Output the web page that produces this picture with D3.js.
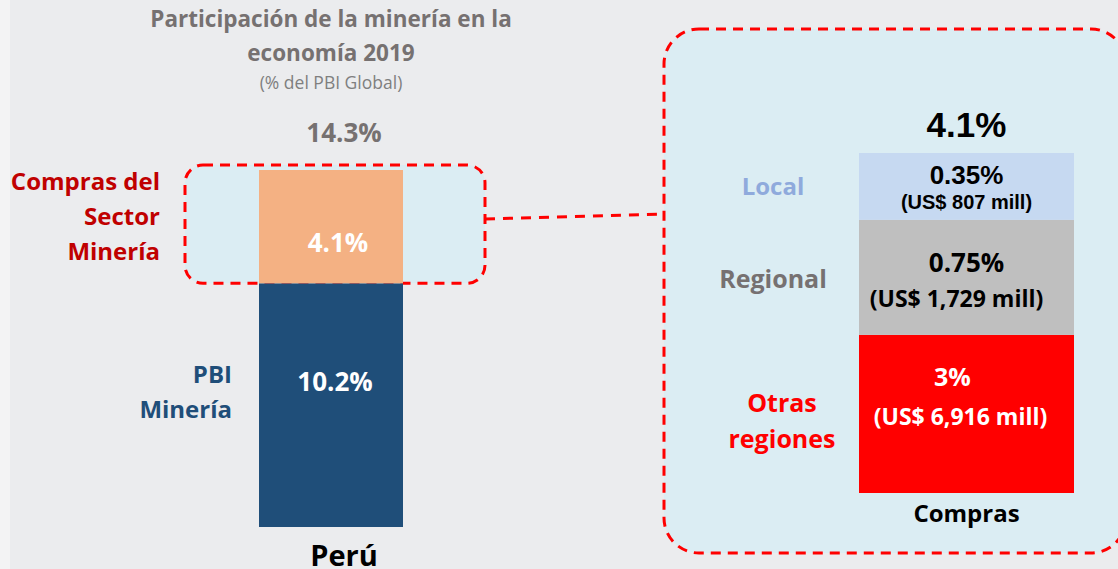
<!DOCTYPE html>
<html>
<head>
<meta charset="utf-8">
<script src="https://cdn.jsdelivr.net/npm/d3@7"></script>
<style>
	body { margin: 0; background: #ebecee; }
</style>
</head>
<body>
<div id="chart"></div>
<script>
// Left panel: mining share of GDP
const pbiKeys = ["PBI Minería", "Compras del Sector Minería"]
const pbiValues = [10.2, 4.1]
const pbiBarLabels = ["10.2%", "4.1%"]
const pbiCountry = "Perú"
const pbiTotalLabel = "14.3%"

// Right panel: where mining purchases go
const comprasKeys = ["Otras regiones", "Regional", "Local"]
const comprasValues = [3, 0.75, 0.35]
const comprasPctLabels = ["3%", "0.75%", "0.35%"]
const comprasMoneyLabels = ["(US$ 6,916 mill)", "(US$ 1,729 mill)", "(US$ 807 mill)"]
const comprasCategory = "Compras"
const comprasTotalLabel = "4.1%"

const titleLines = ["Participación de la minería en la", "economía 2019"]
const subtitle = "(% del PBI Global)"

const W = 1118, H = 569
const boxFill = "#dbedf3"
const dashRed = "#ff0000"

const makeContainer = () => {
	const svg = d3.select("#chart")
		.append("svg")
		.attr("width", W)
		.attr("height", H)
		.attr("font-family", "Open Sans")
		.attr("font-weight", "bold")

	svg.append("rect")
		.attr("width", W)
		.attr("height", H)
		.attr("fill", "#ebecee")

	// thin lighter strip on the far left of the slide
	svg.append("rect")
		.attr("width", 10)
		.attr("height", H)
		.attr("fill", "#f3f3f4")

	return svg
}

const stackOf = (keys, values) => {
	const row = {}
	keys.forEach((k, i) => row[k] = values[i])
	return d3.stack().keys(keys)([row])
}

const dashedBox = (svg, x, y, w, h, r) => {
	svg.append("rect")
		.attr("x", x).attr("y", y)
		.attr("width", w).attr("height", h)
		.attr("rx", r).attr("ry", r)
		.attr("fill", boxFill)
		.attr("stroke", dashRed)
		.attr("stroke-width", 3)
		.attr("stroke-dasharray", "10,7")
}

const multiLine = (svg, lines, x, y0, step, anchor, color, size) => {
	const t = svg.append("text")
		.attr("text-anchor", anchor)
		.attr("fill", color)
		.attr("font-size", size)
	lines.forEach((l, i) => {
		t.append("tspan").attr("x", x).attr("y", y0 + i * step).text(l)
	})
	return t
}

// Left stacked bar with the highlighted purchases box
const drawLeft = (svg) => {
	const series = stackOf(pbiKeys, pbiValues)
	const total = d3.sum(pbiValues)
	const x = d3.scaleBand().domain([pbiCountry]).range([259, 403])
	const y = d3.scalePow().exponent(1.13).domain([0, total]).range([527, 170])
	const color = d3.scaleOrdinal().domain(pbiKeys).range(["#1f4e79", "#f4b183"])

	// box around the purchases segment, behind the bar
	const segTop = y(total), segBot = y(pbiValues[0])
	dashedBox(svg, 185, segTop - 5, 300, segBot - segTop + 5, 18)

	svg.append("g")
		.selectAll("rect")
		.data(series)
		.join("rect")
		.attr("x", x(pbiCountry))
		.attr("width", x.bandwidth())
		.attr("y", d => y(d[0][1]))
		.attr("height", d => y(d[0][0]) - y(d[0][1]))
		.attr("fill", d => color(d.key))

	// value labels inside the bar
	const labelOffsets = [{dx: 4, dy: 108}, {dx: 7, dy: -31}]
	svg.append("g")
		.selectAll("text")
		.data(series)
		.join("text")
		.attr("text-anchor", "middle")
		.attr("fill", "white")
		.attr("font-size", 26)
		.attr("x", (d, i) => x(pbiCountry) + x.bandwidth() / 2 + labelOffsets[i].dx)
		.attr("y", (d, i) => i == 0 ? y(d[0][1]) + labelOffsets[i].dy : y(d[0][0]) + labelOffsets[i].dy)
		.text((d, i) => pbiBarLabels[i])

	svg.append("text")
		.attr("text-anchor", "middle")
		.attr("fill", "#767171")
		.attr("font-size", 26)
		.attr("x", x(pbiCountry) + x.bandwidth() / 2 + 13)
		.attr("y", y(total) - 28)
		.text(pbiTotalLabel)

	const ax = svg.append("g")
		.attr("transform", `translate(0, ${y(0)})`)
		.call(d3.axisBottom(x).tickSize(0).tickPadding(18))
	ax.attr("font-family", null).attr("font-size", null)
	ax.select(".domain").remove()
	ax.selectAll("text")
		.attr("font-size", 29)
		.attr("fill", "#000")
		.attr("dx", 13)

	// series names on the left
	multiLine(svg, ["Compras del", "Sector", "Minería"], 160, 190, 35, "end", "#c00000", 24)
	multiLine(svg, ["PBI", "Minería"], 232, 383, 35, "end", "#1f4e79", 24)
}

// Right panel breakdown of purchases
const drawRight = (svg) => {
	dashedBox(svg, 664, 29, 462, 524, 35)

	// connector from left box to right box
	svg.append("line")
		.attr("x1", 485).attr("y1", 219)
		.attr("x2", 664).attr("y2", 214)
		.attr("stroke", dashRed)
		.attr("stroke-width", 3)
		.attr("stroke-dasharray", "10,8")

	const series = stackOf(comprasKeys, comprasValues)
	const total = d3.sum(comprasValues)
	const x = d3.scaleBand().domain([comprasCategory]).range([859, 1074])
	const y = d3.scalePow().exponent(2.45).domain([0, total]).range([493, 153])
	const color = d3.scaleOrdinal().domain(comprasKeys).range(["#ff0000", "#bfbfbf", "#c6d9f1"])
	const cx = x(comprasCategory) + x.bandwidth() / 2

	svg.append("g")
		.selectAll("rect")
		.data(series)
		.join("rect")
		.attr("x", x(comprasCategory))
		.attr("width", x.bandwidth())
		.attr("y", d => y(d[0][1]))
		.attr("height", d => y(d[0][0]) - y(d[0][1]))
		.attr("fill", d => color(d.key))

	// per segment label styling (top of segment + offset)
	const segStyle = [
		{fill: "white", font: "Open Sans", pct: 25, money: 23, dxP: -14, dxM: -6, dyP: 51, dyM: 90},
		{fill: "black", font: "Open Sans", pct: 26, money: 23, dxP: 0, dxM: -10, dyP: 52, dyM: 87},
		{fill: "black", font: "Liberation Sans", pct: 26, money: 20, dxP: 0, dxM: 0, dyP: 31, dyM: 56}
	]
	series.forEach((s, i) => {
		const st = segStyle[i]
		const top = y(s[0][1])
		svg.append("text")
			.attr("text-anchor", "middle")
			.attr("font-family", st.font)
			.attr("font-size", st.pct)
			.attr("fill", st.fill)
			.attr("x", cx + st.dxP)
			.attr("y", top + st.dyP)
			.text(comprasPctLabels[i])
		svg.append("text")
			.attr("text-anchor", "middle")
			.attr("font-family", st.font)
			.attr("font-size", st.money)
			.attr("fill", st.fill)
			.attr("x", cx + st.dxM)
			.attr("y", top + st.dyM)
			.text(comprasMoneyLabels[i])
	})

	svg.append("text")
		.attr("text-anchor", "middle")
		.attr("font-family", "Liberation Sans")
		.attr("font-size", 35)
		.attr("fill", "black")
		.attr("x", cx)
		.attr("y", y(total) - 16)
		.text(comprasTotalLabel)

	const ax = svg.append("g")
		.attr("transform", `translate(0, ${y(0)})`)
		.call(d3.axisBottom(x).tickSize(0).tickPadding(12))
	ax.attr("font-family", null).attr("font-size", null)
	ax.select(".domain").remove()
	ax.selectAll("text")
		.attr("font-size", 24)
		.attr("fill", "#000")

	// category names beside the bar
	multiLine(svg, ["Otras", "regiones"], 782, 412, 36, "middle", "#ff0000", 25)
	multiLine(svg, ["Regional"], 773, 288, 0, "middle", "#767171", 25)
	multiLine(svg, ["Local"], 773, 195, 0, "middle", "#8faadc", 24)
}

const drawTitle = (svg) => {
	multiLine(svg, titleLines, 331, 27, 34, "middle", "#767171", 22.5)
	svg.append("text")
		.attr("x", 331).attr("y", 89)
		.attr("text-anchor", "middle")
		.attr("font-weight", "normal")
		.attr("font-size", 17.5)
		.attr("fill", "#7f7f7f")
		.text(subtitle)
}

const svg = makeContainer()
drawLeft(svg)
drawRight(svg)
drawTitle(svg)
</script>
</body>
</html>
